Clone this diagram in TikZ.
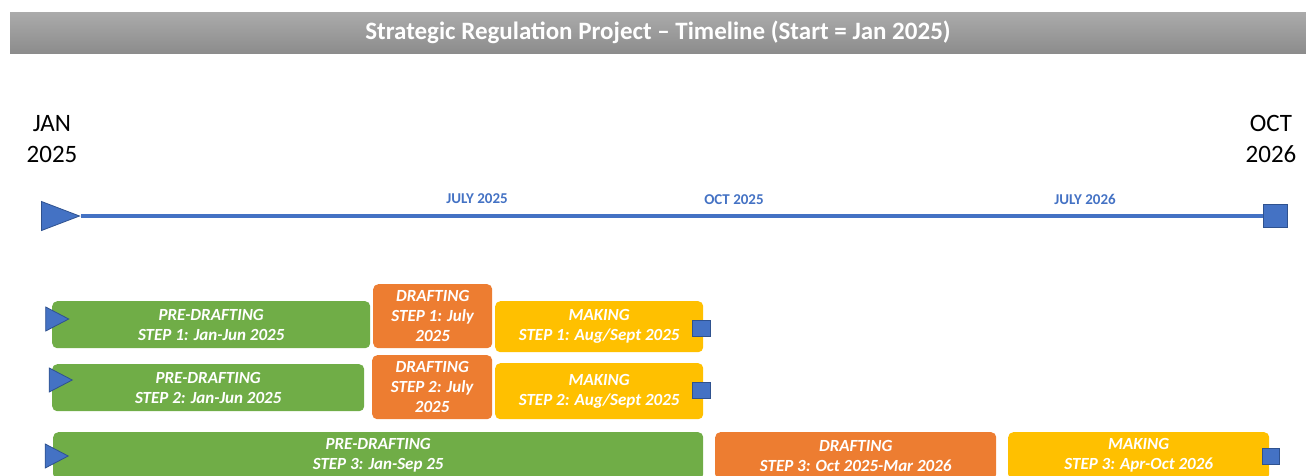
\documentclass[tikz,border=0pt]{standalone}
\usepackage{fontspec}
\setmainfont{Carlito}
\usetikzlibrary{positioning, shapes.geometric}

\definecolor{tlblue}{HTML}{4472C4}
\definecolor{tledge}{HTML}{2F528F}
\definecolor{pregreen}{HTML}{70AD47}
\definecolor{draftorange}{HTML}{ED7D31}
\definecolor{makeyellow}{HTML}{FFC000}

\tikzset{
  phase/.style={rounded corners=5, anchor=north west, inner sep=0, align=center,
    text=white, font=\fontsize{17}{20}\selectfont\bfseries\itshape},
  prebox/.style={phase, fill=pregreen},
  draftbox/.style={phase, fill=draftorange},
  makebox/.style={phase, fill=makeyellow},
  startmark/.style={isosceles triangle, isosceles triangle stretches, inner sep=0,
    fill=tlblue, draw=tledge, line width=0.8},
  endmark/.style={rectangle, inner sep=0, fill=tlblue, draw=tledge, line width=0.8},
  monthlabel/.style={text=tlblue, font=\fontsize{15}{17}\selectfont\bfseries},
  yearlabel/.style={align=center, font=\fontsize{25}{31}\selectfont},
}

\begin{document}
\begin{tikzpicture}[x=1pt, y=-1pt]
    \useasboundingbox (0,0) rectangle (1306,475);
    % title bar
    \node(title) at (658,32.5) [minimum width=1296, minimum height=41, inner sep=0,
        top color=black!33, bottom color=black!45, text=white,
        font=\fontsize{25}{28}\selectfont\bfseries]
        {\raisebox{-2pt}{Strategic Regulation Project -- Timeline (Start = Jan 2025)}};

    % main timeline
    \node(jan) at (52,139) [yearlabel] {JAN\\2025};
    \node(oct) at (1271,139) [yearlabel] {OCT\\2026};
    \node(tstart) at (51.5,216) [startmark, minimum width=29, minimum height=38] {};
    \node(tend) at (1275.5,216) [endmark, minimum width=24, minimum height=23] {};
    \draw[tlblue, line width=4] (tstart.apex) -- (tend.west);
    \node(jul25) at (477,199) [monthlabel] {JULY 2025};
    \node(oct25) at (734,200) [monthlabel] {OCT 2025};
    \node(jul26) at (1085,199) [monthlabel] {JULY 2026};

    % step 1
    \node(pre1) at (52,301) [prebox, minimum width=318, minimum height=47]
        {PRE-DRAFTING\\STEP 1: Jan-Jun 2025};
    \node(draft1) at (373,284) [draftbox, minimum width=119, minimum height=64]
        {DRAFTING\\STEP 1: July\\2025};
    \node(make1) at (495,301) [makebox, minimum width=208, minimum height=51]
        {MAKING\\STEP 1: Aug/Sept 2025};
    \node(start1) at (53,319) [startmark, minimum width=24, minimum height=23] {};
    \node(end1) at (701.5,328) [endmark, minimum width=18, minimum height=16] {};

    % step 2
    \node(pre2) at (52,364) [prebox, minimum width=312, minimum height=47]
        {PRE-DRAFTING\\STEP 2: Jan-Jun 2025};
    \node(draft2) at (372,355) [draftbox, minimum width=120, minimum height=64]
        {DRAFTING\\STEP 2: July\\2025};
    \node(make2) at (495,363) [makebox, minimum width=208, minimum height=56]
        {MAKING\\STEP 2: Aug/Sept 2025};
    \node(start2) at (56.5,380) [startmark, minimum width=24, minimum height=23] {};
    \node(end2) at (701.5,390) [endmark, minimum width=18, minimum height=16] {};

    % step 3
    \node(pre3) at (53,432) [prebox, minimum width=650, minimum height=47]
        {PRE-DRAFTING\\STEP 3: Jan-Sep 25};
    \node(draft3) at (715,432) [draftbox, minimum width=281, minimum height=47]
        {DRAFTING\\STEP 3: Oct 2025-Mar 2026};
    \node(make3) at (1008,432) [makebox, minimum width=261, minimum height=47]
        {MAKING\\STEP 3: Apr-Oct 2026};
    \node(start3) at (52.5,456) [startmark, minimum width=24, minimum height=23] {};
    \node(end3) at (1270.5,456) [endmark, minimum width=17, minimum height=16] {};
\end{tikzpicture}
\end{document}
